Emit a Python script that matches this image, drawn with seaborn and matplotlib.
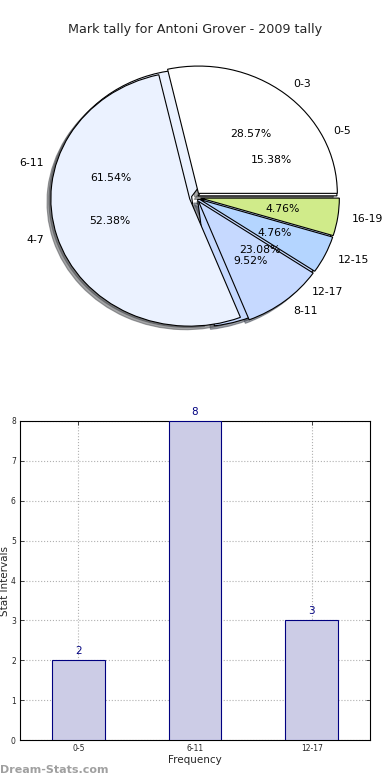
import matplotlib
matplotlib.use("Agg")
import matplotlib.pyplot as plt
import seaborn as sns
import pandas as pd

# ---- data ----
title = "Mark tally for Antoni Grover - 2009 tally"
pie1_labels = ["0-3", "4-7", "8-11", "12-15", "16-19"]
pie1_values = [6, 11, 2, 1, 1]
pie1_colors = ["#ffffff", "#ebf2ff", "#c6d9ff", "#b4d5ff", "#d0eb8a"]

pie2_labels = ["0-5", "6-11", "12-17"]
pie2_values = [2, 8, 3]
pie2_colors = ["#ffffff", "#ebf2ff", "#c6d9ff"]

bar_categories = ["0-5", "6-11", "12-17"]
bar_values = [2, 8, 3]
y_ticks = [0, 1, 2, 3, 4, 5, 6, 7, 8]

sns.set_theme(style="ticks")
plt.rcParams["font.family"] = ["DejaVu Sans"]

fig = plt.figure(figsize=(3.9, 7.8), dpi=100)

# ---- pie ----
axp = fig.add_axes([0.055, 0.543, 0.89, 0.408])
wedge_kw = dict(edgecolor="black", linewidth=0.8)
axp.pie(pie2_values, labels=pie2_labels, colors=pie2_colors,
        explode=[0.025] * len(pie2_values), autopct="%1.2f%%",
        pctdistance=0.6, labeldistance=1.1, startangle=0,
        shadow=True, wedgeprops=wedge_kw,
        textprops=dict(fontsize=7.8, color="black"))
axp.pie(pie1_values, labels=pie1_labels, colors=pie1_colors,
        explode=[0.04] * len(pie1_values), autopct="%1.2f%%",
        pctdistance=0.6, labeldistance=1.1, startangle=0,
        shadow=True, wedgeprops=wedge_kw,
        textprops=dict(fontsize=7.8, color="black"))
axp.set_aspect("auto")
axp.set_xlim(-1.25, 1.25)
axp.set_ylim(-1.25, 1.25)
axp.axis("off")

fig.text(0.5, 1 - 30 / 780, title, ha="center", va="center", fontsize=9.2)

# ---- bar ----
axb = fig.add_axes([20 / 390, 40 / 780, 350 / 390, 319 / 780])
df = pd.DataFrame({"cat": bar_categories, "val": bar_values})
sns.barplot(data=df, x="cat", y="val", ax=axb, color="#ccccE6",
            saturation=1, edgecolor="#000080", linewidth=0.8, width=0.45,
            zorder=3)
for i, v in enumerate(bar_values):
    axb.annotate(str(v), (i, v), xytext=(0, 3), textcoords="offset points",
                 ha="center", va="bottom", color="#000080", fontsize=7.5,
                 annotation_clip=False)
axb.set_xlim(-0.5, 2.5)
axb.set_ylim(0, 8)
axb.set_yticks(y_ticks)
axb.tick_params(axis="both", direction="in", labelsize=5.5, length=3,
                width=0.6, top=True, right=True, pad=3)
axb.grid(True, linestyle=":", color="#b0b0b0", linewidth=0.8, zorder=0)
axb.set_axisbelow(True)
for s in axb.spines.values():
    s.set_visible(True)
    s.set_linewidth(0.8)
    s.set_color("black")
axb.set_xlabel("Frequency", fontsize=7.5, labelpad=1)
axb.set_ylabel("Stat Intervals", fontsize=7.5)
axb.yaxis.set_label_coords(-0.028, 0.5)

fig.text(0.0, 1 - 770 / 780, "Dream-Stats.com", ha="left", va="center",
         fontsize=8, color="#a0a0a0", fontweight="bold")

fig.savefig("out.png", dpi=100)
